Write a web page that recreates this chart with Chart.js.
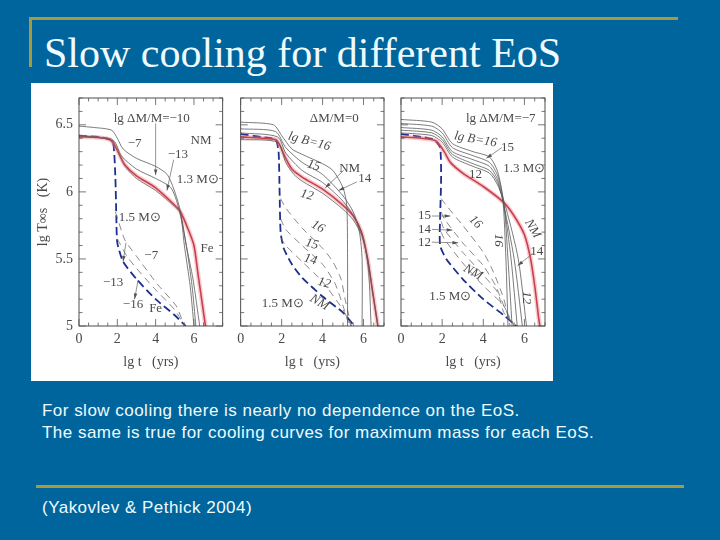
<!DOCTYPE html>
<html><head><meta charset="utf-8">
<script src="https://cdn.jsdelivr.net/npm/chart.js@4"></script>
<style>
html,body{margin:0;padding:0;width:720px;height:540px;overflow:hidden;background:#00659c}
.abs{position:absolute}
.gold{position:absolute;background:#a89a3c}
#title{left:44px;top:29px;font:42px "Liberation Serif",serif;color:#eefbff;white-space:nowrap}
.body{left:42px;font:17px "Liberation Sans",sans-serif;color:#eefbff;white-space:nowrap;letter-spacing:.48px}
#panel{left:31px;top:83px;width:522px;height:298px;background:#fff}
canvas{position:absolute;filter:blur(.35px)}
</style></head><body>
<div class="gold" style="left:29px;top:17px;width:649px;height:3px"></div>
<div class="gold" style="left:29px;top:17px;width:3px;height:50px"></div>
<div id="title" class="abs">Slow cooling for different EoS</div>
<div id="panel" class="abs"></div>
<canvas id="c1" style="left:31px;top:83px"></canvas>
<canvas id="c2" style="left:231px;top:83px"></canvas>
<canvas id="c3" style="left:392px;top:83px"></canvas>
<div class="abs body" style="top:401px">For slow cooling there is nearly no dependence on the EoS.</div>
<div class="abs body" style="top:423px">The same is true for cooling curves for maximum mass for each EoS.</div>
<div class="gold" style="left:36px;top:485px;width:648px;height:3px"></div>
<div class="abs body" style="top:498px">(Yakovlev &amp; Pethick 2004)</div>
<script>
// Panel 1 : lg dM/M series, heat-blanketing envelope
const p1Red=[[0,6.41],[1,6.405],[1.6,6.39],[1.85,6.35],[2.1,6.28],[2.4,6.2],[3,6.12],[4,6.03],[5,5.9],[5.3,5.85],[5.7,5.72],[6,5.6],[6.2,5.4],[6.4,5.2],[6.6,5]];
const p1Fe=[[0,6.42],[1.7,6.395],[1.9,6.34],[2.15,6.26],[2.4,6.19],[3,6.1],[4,6.01],[5,5.89],[5.3,5.84],[5.6,5.6],[5.95,5.35],[6.3,5]];
const p1A=[[0,6.49],[0.8,6.48],[1.7,6.46],[2,6.4],[2.3,6.32],[3,6.25],[4,6.19],[4.6,6.13],[5,6],[5.3,5.85],[5.5,5.6],[5.8,5.3],[6,5]];
const p1B=[[0,6.42],[1.8,6.38],[2.2,6.27],[3,6.17],[4,6.1],[4.8,6.03],[5.2,5.88],[5.6,5.6],[5.9,5.3],[6.1,5]];
const p1Blue=[[0,6.42],[1,6.41],[1.6,6.39],[1.8,6.35],[1.9,6.1],[1.95,5.8],[2,5.62],[2.3,5.48],[3,5.35],[4,5.2],[5,5.08],[5.56,5]];
const p1D1=[[1.9,5.85],[2.4,5.64],[3,5.52],[4.1,5.31],[5.07,5.15],[5.5,5]];
const p1D2=[[2,5.65],[2.5,5.52],[3,5.43],[4,5.27],[5,5.12],[5.5,5]];

// Panel 2 : lg B series, dM/M = 0
const p2Red=[[0,6.41],[1.7,6.39],[1.9,6.35],[2.2,6.25],[2.5,6.17],[3,6.11],[4,6.02],[5,5.9],[5.5,5.82],[5.9,5.7],[6.2,5.5],[6.4,5.3],[6.55,5.15],[6.7,5]];
const p2B16=[[0,6.52],[1.6,6.5],[2,6.42],[2.5,6.32],[3,6.28],[4,6.21],[4.5,6.16],[5,6.03],[5.18,5.9],[5.22,5.5],[5.22,5]];
const p2B15=[[0,6.47],[1.7,6.45],[2.2,6.33],[3,6.22],[4,6.13],[5,5.97],[5.5,5.85],[5.8,5.7],[5.93,5.5],[5.93,5]];
const p2B14=[[0,6.44],[1.8,6.41],[2.2,6.29],[3,6.16],[4,6.07],[5,5.93],[5.6,5.8],[6,5.65],[6.25,5.4],[6.37,5]];
const p2B12=[[0,6.39],[1.8,6.37],[2.2,6.22],[2.6,6.13],[3,6.08],[4,5.99],[5,5.87],[5.5,5.79],[5.9,5.68],[6.2,5.5],[6.45,5.25],[6.7,5]];
const p2Blue=[[0,6.43],[1,6.41],[1.7,6.39],[1.85,6.3],[1.9,6],[1.95,5.7],[2.1,5.58],[2.5,5.46],[3,5.36],[4,5.22],[5,5.1],[5.55,5]];
const p2D16=[[1.95,5.95],[2.2,5.88],[3,5.73],[4,5.58],[4.5,5.48],[4.9,5.35],[5.1,5.2],[5.4,5]];
const p2D15=[[1.95,5.8],[2.2,5.72],[3,5.6],[4,5.46],[4.6,5.32],[5,5.15],[5.3,5]];
const p2D14=[[1.95,5.66],[2.2,5.6],[3,5.48],[4,5.33],[5,5.12],[5.4,5]];

// Panel 3 : lg B series, dM/M = -7
const p3Red=[[0,6.41],[1,6.4],[1.7,6.38],[2.1,6.3],[2.4,6.22],[3,6.14],[4,6.04],[5,5.92],[5.5,5.82],[6,5.68],[6.3,5.5],[6.5,5.3],[6.7,5.05],[6.75,5]];
const p3B16=[[0,6.54],[1.5,6.52],[2,6.47],[2.5,6.36],[3.5,6.3],[4.3,6.26],[4.7,6.15],[4.95,5.95],[5.1,5.5],[5.2,5]];
const p3B15=[[0,6.51],[1.5,6.49],[2,6.44],[2.5,6.33],[3.5,6.27],[4.3,6.22],[4.7,6.12],[5,5.92],[5.2,5.5],[5.4,5]];
const p3B14a=[[0,6.48],[1.5,6.46],[2,6.41],[2.5,6.3],[3.5,6.24],[4.3,6.19],[4.7,6.09],[5,5.9],[5.35,5.5],[5.65,5]];
const p3B14b=[[0,6.46],[1.5,6.44],[2,6.39],[2.5,6.28],[3.5,6.21],[4.3,6.16],[4.7,6.07],[5,5.9],[5.5,5.5],[5.9,5]];
const p3B12=[[0,6.44],[1.5,6.42],[2,6.37],[2.5,6.26],[3.5,6.19],[4.3,6.14],[4.7,6.05],[5.1,5.88],[5.7,5.5],[6.1,5]];
const p3Blue=[[0,6.43],[1,6.41],[1.6,6.39],[1.9,6.33],[1.95,6.1],[1.9,5.8],[1.9,5.6],[2.2,5.5],[3,5.35],[4,5.2],[5,5.08],[5.6,5]];
const p3D16=[[1.95,5.95],[2.2,5.9],[3,5.75],[4,5.55],[4.5,5.4],[5,5.2],[5.3,5]];
const p3D15=[[1.95,5.85],[2.1,5.8],[3,5.62],[4,5.45],[4.6,5.3],[5,5.15],[5.5,5]];
const p3D14=[[1.95,5.78],[2.1,5.72],[3,5.55],[4,5.38],[4.7,5.25],[5,5.1],[5.6,5]];
const p3D12=[[1.95,5.7],[2.1,5.65],[3,5.47],[4,5.3],[5,5.15],[5.4,5]];

const xTickValues=[0,2,4,6];
const yTickValues=[5,5.5,6,6.5];
const SUN='\u2299';

const notes1=[['lg \u0394M/M=\u221210',3.8,6.55],['\u22127',2.9,6.36],['NM',6.37,6.38],['\u221213',5.16,6.275],['1.3 M'+SUN,6.2,6.095],
 ['1.5 M'+SUN,3.17,5.81],['Fe',6.68,5.575],['\u22127',3.77,5.525],['\u221213',1.78,5.325],['\u221216',2.82,5.16],['Fe',4,5.13]];
const notes2=[['\u0394M/M=0',4.57,6.55],['lg B=16',3.35,6.375,15],['15',3.56,6.195,15],['NM',5.32,6.175],['14',6.06,6.1],['12',3.23,5.975,15],
 ['16',3.77,5.74,30],['15',3.48,5.61,15],['14',3.4,5.495,15],['12',4.08,5.32,15],['NM',3.85,5.175,30],['1.5 M'+SUN,2.06,5.17]];
const notes3=[['lg \u0394M/M=\u22127',4.85,6.55],['lg B=16',3.62,6.39,10],['15',5.18,6.33],['12',3.62,6.13],['1.3 M'+SUN,5.99,6.175],['NM',6.4,5.725,60],
 ['16',3.62,5.775,45],['16',4.73,5.64,90],['15',1.14,5.825],['14',1.14,5.72],['12',1.14,5.625],['14',6.6,5.555],['12',6.12,5.21,90],['NM',3.49,5.4,30],['1.5 M'+SUN,2.4,5.22]];
const arrows1=[[4,6.51,4,6.125],[4.94,6.24,4.59,6.01],[3.08,5.34,2.9,5.2],[2.45,5.62,2.3,5.48]];
const arrows2=[[5.03,6.16,4.13,6.03],[5.68,6.075,4.78,6.01]];
const arrows3=[[1.5,5.82,2.4,5.82],[1.5,5.72,2.5,5.715],[1.5,5.625,2.78,5.62],[4.9,6.33,4.15,6.25],[6.4,5.54,5.67,5.45]];

const INK='#4a4a4a';
const solid=d=>({data:d,borderColor:'#5a5a5a',borderWidth:.8,pointRadius:0,tension:.25,fill:false});
const dash=d=>({data:d,borderColor:'#6a6a6a',borderWidth:.8,borderDash:[7,5],pointRadius:0,tension:.2,fill:false});
const halo=d=>({data:d,borderColor:'rgba(238,120,130,.38)',borderWidth:4.5,pointRadius:0,tension:.25,fill:false});
const red=d=>({data:d,borderColor:'#ad1f33',borderWidth:1.6,pointRadius:0,tension:.25,fill:false});
const blue=d=>({data:d,borderColor:'#1d2f8c',borderWidth:1.8,borderDash:[8,4],pointRadius:0,tension:.2,fill:false});

const decor={id:'decor',afterDatasetsDraw(ch,a,o){
 const {ctx,chartArea:ca,scales:{x,y}}=ch;
 ctx.save();
 ctx.strokeStyle='#222';ctx.lineWidth=.8;
 ctx.strokeRect(ca.left,ca.top,ca.width,ca.height);
 ctx.strokeStyle='#555';ctx.beginPath();
 for(let v=0;v<=o.xmax+1e-6;v+=.5){const p=x.getPixelForValue(v),m=Number.isInteger(v/2)?7:3.5;
  ctx.moveTo(p,ca.bottom);ctx.lineTo(p,ca.bottom-m);ctx.moveTo(p,ca.top);ctx.lineTo(p,ca.top+m);}
 for(let i=0;i<=17;i++){const v=5+i/10,p=y.getPixelForValue(v),m=i%5===0?7:3.5;
  ctx.moveTo(ca.left,p);ctx.lineTo(ca.left+m,p);ctx.moveTo(ca.right,p);ctx.lineTo(ca.right-m,p);}
 ctx.stroke();
 ctx.strokeStyle='#666';ctx.fillStyle='#555';ctx.lineWidth=.7;
 for(const [x0,y0,x1,y1] of o.arrows){
  const a0=x.getPixelForValue(x0),b0=y.getPixelForValue(y0),a1=x.getPixelForValue(x1),b1=y.getPixelForValue(y1);
  ctx.beginPath();ctx.moveTo(a0,b0);ctx.lineTo(a1,b1);ctx.stroke();
  const t=Math.atan2(b1-b0,a1-a0);ctx.beginPath();ctx.moveTo(a1,b1);
  ctx.lineTo(a1-6*Math.cos(t-.3),b1-6*Math.sin(t-.3));ctx.lineTo(a1-6*Math.cos(t+.3),b1-6*Math.sin(t+.3));ctx.closePath();ctx.fill();
 }
 ctx.fillStyle=INK;ctx.textAlign='center';ctx.textBaseline='middle';
 for(const [s,vx,vy,r] of o.notes){
  ctx.font=(r?'italic ':'')+'13px "Liberation Serif",serif';
  ctx.save();ctx.translate(x.getPixelForValue(vx),y.getPixelForValue(vy));
  if(r)ctx.rotate(r*Math.PI/180);ctx.fillText(s,0,0);ctx.restore();
 }
 ctx.restore();
}};

function make(id,left,right,xmax,sets,notes,arrows,showY){
 const cv=document.getElementById(id);
 new Chart(cv,{type:'line',plugins:[decor],data:{datasets:sets},options:{
  responsive:false,animation:false,devicePixelRatio:1,
  layout:{autoPadding:false,padding:{top:15,right,left:showY?0:left}},
  plugins:{legend:{display:false},tooltip:{enabled:false},decor:{notes,arrows,xmax}},
  scales:{
   x:{type:'linear',min:0,max:xmax,grid:{display:false,drawTicks:false},border:{display:false},
    afterBuildTicks:s=>{s.ticks=xTickValues.map(value=>({value}));},
    afterFit:s=>{s.height=55;},
    ticks:{color:INK,padding:5,font:{family:'Liberation Serif',size:14},maxRotation:0,autoSkip:false,callback:v=>String(v)},
    title:{display:true,text:'lg t   (yrs)',color:INK,padding:{top:0,bottom:10},font:{family:'Liberation Serif',size:14}}},
   y:{type:'linear',min:5,max:6.7,display:showY,grid:{display:false,drawTicks:false},border:{display:false},
    afterBuildTicks:s=>{s.ticks=yTickValues.map(value=>({value}));},
    afterFit:s=>{s.width=showY?left:0;},
    ticks:{color:INK,padding:6,font:{family:'Liberation Serif',size:14},autoSkip:false,callback:v=>String(v)},
    title:{display:true,text:'lg T\u221Es   (K)',color:INK,padding:{top:4,bottom:0},font:{family:'Liberation Serif',size:14}}}
  }}});
}
function size(id,w){const c=document.getElementById(id);c.width=w;c.height=298;c.style.width=w+'px';c.style.height='298px';}
size('c1',200);size('c2',161);size('c3',161);
make('c1',48,8.3,7.5,[solid(p1A),solid(p1B),dash(p1D1),dash(p1D2),halo(p1Red),solid(p1Fe),red(p1Red),blue(p1Blue)],notes1,arrows1,true);
make('c2',9.7,8,7,[solid(p2B16),solid(p2B15),solid(p2B14),solid(p2B12),dash(p2D16),dash(p2D15),dash(p2D14),halo(p2Red),red(p2Red),blue(p2Blue)],notes2,arrows2,false);
make('c3',9,8,7,[solid(p3B16),solid(p3B15),solid(p3B14a),solid(p3B14b),solid(p3B12),dash(p3D16),dash(p3D15),dash(p3D14),dash(p3D12),halo(p3Red),red(p3Red),blue(p3Blue)],notes3,arrows3,false);
</script></body></html>
